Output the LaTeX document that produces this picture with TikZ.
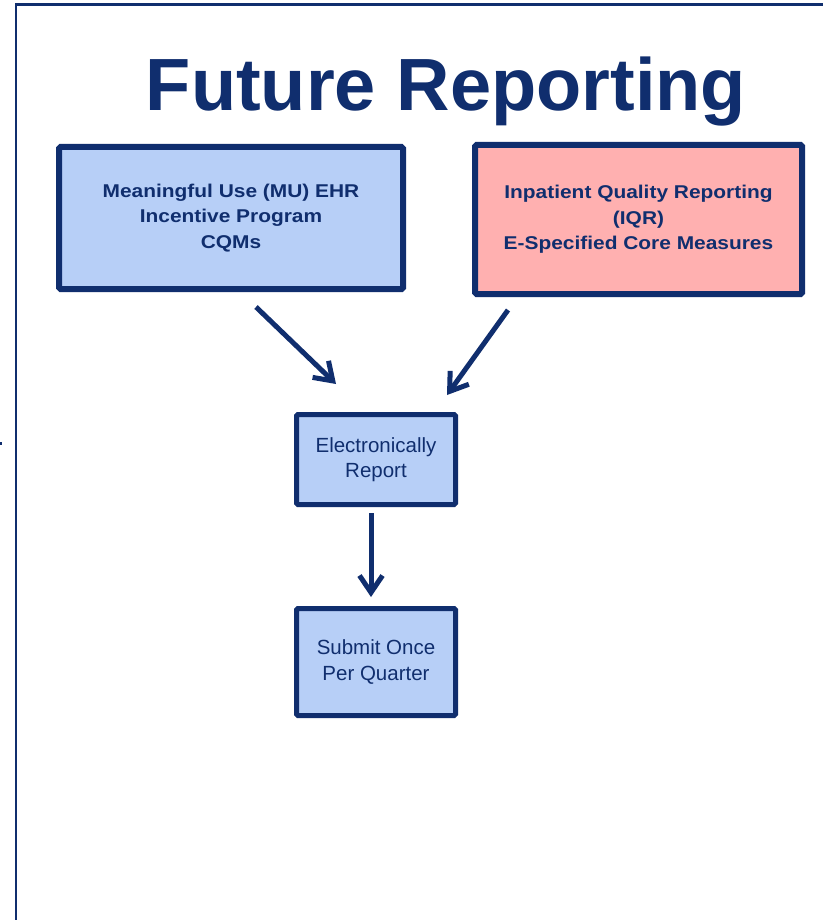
\documentclass[tikz,border=0pt]{standalone}
\usepackage{fontspec}
\usepackage{graphicx}
\setmainfont{Liberation Sans}
\usetikzlibrary{arrows.meta}
\definecolor{navy}{RGB}{16,46,110}
\definecolor{paleblue}{RGB}{183,207,247}
\definecolor{palepink}{RGB}{255,176,176}
% widened bold lines used in the two programme boxes
\newcommand{\wideline}[1]{\scalebox{1.13}[1]{#1}}

\begin{document}
\begin{tikzpicture}[x=1pt,y=-1pt,
  box/.style={draw=navy, rectangle, rounded corners=1.5pt, inner sep=0pt, text=navy, align=center},
  bigbox/.style={box, line width=6pt, font=\bfseries\fontsize{18.5}{25.5}\selectfont},
  smallbox/.style={box, line width=5pt, fill=paleblue, minimum width=159pt, font=\fontsize{20.5}{25.5}\selectfont},
  flow/.style={draw=navy, line width=5pt, -{Straight Barb[length=17pt,width=23pt,line width=5pt]}}
]
\useasboundingbox (0,0) rectangle (823,920);
\fill[white] (0,0) rectangle (823,920);

% slide frame
\draw[navy, line width=2.5pt] (16,920) -- (16,4.5) -- (823,4.5);
\fill[navy] (0,442) rectangle (2,444.5);

% title
\node[text=navy, font=\bfseries\fontsize{74}{80}\selectfont, anchor=base] (title) at (446,111) {Future Reporting};

% programme boxes
\node[bigbox, fill=paleblue, minimum width=344pt, minimum height=142pt] (mu) at (231,218)
  {\wideline{Meaningful Use (MU) EHR}\\\wideline{Incentive Program}\\\wideline{CQMs}};
\node[bigbox, fill=palepink, minimum width=327pt, minimum height=149pt] (iqr) at (638.5,219.5)
  {\wideline{Inpatient Quality Reporting}\\\wideline{(IQR)}\\\wideline{E-Specified Core Measures}};

% process steps
\node[smallbox, minimum height=90pt] (er) at (376,459.5) {Electronically\\Report};
\node[smallbox, minimum height=107pt] (sub) at (376,662) {Submit Once\\Per Quarter};

% connectors
\draw[flow] ([xshift=25pt,yshift=-15pt]mu.south) -- ([xshift=-40pt,yshift=28pt]er.north);
\draw[flow] ([xshift=-130.5pt,yshift=-13pt]iqr.south) -- ([xshift=71pt,yshift=17pt]er.north);
\draw[flow] ([xshift=-5pt,yshift=-6pt]er.south) -- ([xshift=-5pt,yshift=9pt]sub.north);
\end{tikzpicture}
\end{document}
